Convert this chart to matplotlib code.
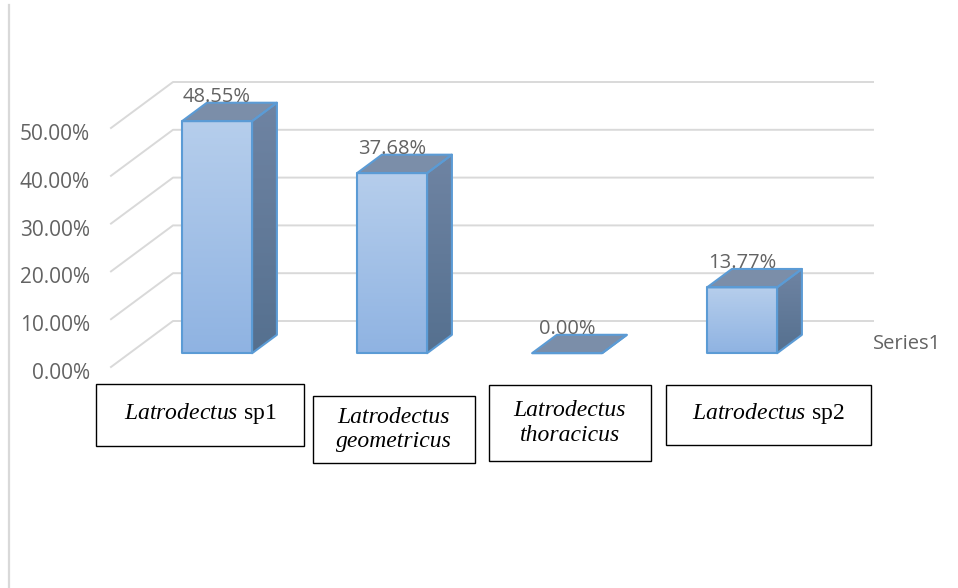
import numpy as np
import matplotlib.pyplot as plt
from matplotlib.patches import Polygon, Rectangle
from matplotlib.colors import LinearSegmentedColormap
from matplotlib.lines import Line2D
from matplotlib.transforms import Affine2D, ScaledTranslation

# ---- data -----------------------------------------------------------------
categories = ["Latrodectus sp1", "Latrodectus geometricus",
              "Latrodectus thoracicus", "Latrodectus sp2"]
values = [0.4855, 0.3768, 0.0, 0.1377]
y_ticks = [0.0, 0.1, 0.2, 0.3, 0.4, 0.5]
series_name = "Series1"

plt.rcParams['mathtext.fontset'] = 'custom'
plt.rcParams['mathtext.it'] = 'Liberation Serif:italic'
plt.rcParams['mathtext.rm'] = 'Liberation Serif'

W, H = 958, 588
fig = plt.figure(figsize=(W / 100, H / 100), dpi=100)
pix = Affine2D().scale(1 / W, -1 / H).translate(0, 1) + fig.transFigure

# ---- axes: front plane of the 3-D floor ---------------------------------------
PX_X, PX_Y = 175.0, 478.0          # pixels per category / per 100 %
X0_PX, Y0_PX = 111.0, 367.0        # front-left floor corner (x=-0.5, y=0)
XLIM, YLIM = (-0.6, 3.9), (-0.25, 0.65)
left = X0_PX + (XLIM[0] + 0.5) * PX_X
right = X0_PX + (XLIM[1] + 0.5) * PX_X
bottom = Y0_PX - YLIM[0] * PX_Y
top = Y0_PX - YLIM[1] * PX_Y
ax = fig.add_axes([left / W, 1 - bottom / H, (right - left) / W, (bottom - top) / H])

# depth direction (z = 0 front, z = 1 back wall)
DX, DY = 62 / PX_X, 46 / PX_Y


def proj(x, y, z):
    return (x + z * DX, y + z * DY)


# walls: diagonal on the side wall, horizontal on the back wall
for t in y_ticks:
    pts = [proj(-0.5, t, 0), proj(-0.5, t, 1), proj(3.5, t, 1)]
    xs, ys = zip(*pts)
    ax.plot(xs, ys, color='#d9d9d9', lw=1.4, zorder=1)

# ---- 3-D columns -------------------------------------------------------------
front_cmap = LinearSegmentedColormap.from_list('front', ['#8fb3e2', '#b6ceec'])
side_cmap = LinearSegmentedColormap.from_list('side', ['#55708f', '#6f84a3'])
grad = np.linspace(0, 1, 256).reshape(-1, 1)
edge = '#5b9bd5'
top_color = '#7b8ea9'
HW, Z0, Z1 = 0.2, 0.3, 0.7


def shaded_face(pts, cmap):
    xs, ys = zip(*pts)
    if max(ys) - min(ys) <= 0:
        return
    im = ax.imshow(grad, cmap=cmap, origin='lower', aspect='auto',
                   interpolation='bicubic', zorder=2,
                   extent=[min(xs), max(xs), min(ys), max(ys)])
    clip = Polygon(pts, closed=True, transform=ax.transData)
    im.set_clip_path(clip)


for i, v in enumerate(values):
    fl, fr = i - HW, i + HW
    front = [proj(fl, 0, Z0), proj(fr, 0, Z0), proj(fr, v, Z0), proj(fl, v, Z0)]
    side = [proj(fr, 0, Z0), proj(fr, 0, Z1), proj(fr, v, Z1), proj(fr, v, Z0)]
    topf = [proj(fl, v, Z0), proj(fr, v, Z0), proj(fr, v, Z1), proj(fl, v, Z1)]

    shaded_face(front, front_cmap)
    shaded_face(side, side_cmap)
    ax.add_patch(Polygon(topf, closed=True, fc=top_color, ec=edge, lw=1.5,
                         joinstyle='round', zorder=3))
    for face in (side, front):
        ax.add_patch(Polygon(face, closed=True, fill=False, ec=edge, lw=1.5,
                             joinstyle='round', zorder=3))

    ax.annotate(f"{v:.2%}", xy=(proj(i, v, Z0)[0], proj(i, v, Z1)[1]),
                xytext=(0, 6), textcoords='offset pixels',
                ha='center', va='center', fontsize=14.5, color='#636363',
                family='Open Sans', zorder=4)

ax.text(proj(3.5, 0, 1)[0], proj(3.5, 0, 0.5)[1], series_name,
        ha='left', va='center', fontsize=14.5, color='#636363', family='Open Sans')

# ---- value axis -------------------------------------------------------------
ax.set_xlim(*XLIM)
ax.set_ylim(*YLIM)
ax.set_xticks([])
ax.set_yticks(y_ticks)
ax.set_yticklabels([f"{t:.2%}" for t in y_ticks])
ax.tick_params(axis='y', length=0, pad=2.5, labelcolor='#636363', labelsize=15)
for lab in ax.get_yticklabels():
    lab.set_family('Open Sans')
    lab.set_transform(lab.get_transform() +
                      ScaledTranslation(0, -4 / 100, fig.dpi_scale_trans))
for s in ax.spines.values():
    s.set_visible(False)
ax.patch.set_visible(False)

# ---- category boxes ----------------------------------------------------------
boxes = [(96, 384, 208, 62), (313, 396, 162, 67), (489, 385, 162, 76), (666, 385, 205, 60)]
for name, (bx, by, bw, bh) in zip(categories, boxes):
    genus, species = name.split(' ', 1)
    if species.startswith('sp'):
        label = rf"$\mathit{{{genus}}}$ {species}"
        style = 'normal'
        cy = by + bh / 2 - 2
    else:
        label = f"{genus}\n{species}"
        style = 'italic'
        cy = by + bh / 2
    fig.add_artist(Rectangle((bx, by), bw, bh, transform=pix, fill=False,
                             ec='black', lw=1.0))
    fig.text(bx + bw / 2, cy, label, transform=pix, ha='center',
             va='center', fontsize=17, family='Liberation Serif',
             style=style, linespacing=1.22)

# frame edge on the left
fig.add_artist(Line2D([9.5, 9.5], [5, 588], transform=pix, color='#d9d9d9', lw=1.6))

fig.savefig('out.png', dpi=100)
